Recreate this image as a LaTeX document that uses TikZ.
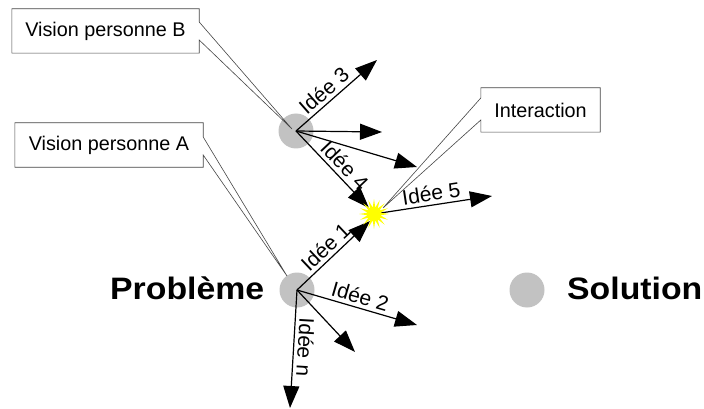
\documentclass[tikz,border=0pt]{standalone}
\usepackage{fontspec}
\setmainfont{Liberation Sans}
\usetikzlibrary{arrows.meta,shapes.geometric}
\definecolor{dotgray}{RGB}{194,194,194}
\definecolor{burstyellow}{RGB}{255,255,0}
\definecolor{calloutline}{RGB}{70,70,70}
\pgfdeclarelayer{bg}
\pgfdeclarelayer{fg}
\pgfsetlayers{bg,main,fg}
\tikzset{
  dot/.style={circle,fill=dotgray,draw=none,minimum size=35pt,inner sep=0pt},
  boxtext/.style={draw=none,inner sep=0pt,minimum height=44pt,font=\fontsize{19.8}{22}\selectfont},
  calloutshape/.style={draw=calloutline,line width=0.6pt,fill=white,line join=miter},
  idea/.style={line width=1.2pt,-{Triangle[length=22pt,width=16pt]}},
  ilabel/.style={font=\fontsize{21}{23}\selectfont,inner sep=3.5pt,sloped,above},
  bigtext/.style={font=\fontsize{31}{34}\selectfont\bfseries,inner sep=0pt,anchor=base west},
  burststyle/.style={star,star points=16,star point ratio=2.3,fill=burstyellow,draw=none,minimum size=30pt,inner sep=0pt}
}
\begin{document}
\begin{tikzpicture}[x=1pt,y=-1pt]
\useasboundingbox (0,0) rectangle (704,409);
% circles
\begin{pgfonlayer}{bg}
\node[dot] (pA) at (297,290) {};
\node[dot] (pB) at (296,131) {};
\node[dot] (sol) at (527,290) {};
\end{pgfonlayer}
% texts
\node[bigtext] (prob) at (110,299) {\scalebox{1.09}[1]{Problème}};
\node[bigtext] (soltext) at (567,299) {\scalebox{1.09}[1]{Solution}};
% callout boxes
\node[boxtext,minimum width=187pt] (vb) at (105.5,31) {Vision personne B};
\node[boxtext,minimum width=188pt] (va) at (109,145) {Vision personne A};
\node[boxtext,minimum width=119pt] (inter) at (540.5,110) {Interaction};
\coordinate (tipB) at (292,129);
\coordinate (tipA) at (287,276);
\coordinate (tipI) at (383,208);
\begin{pgfonlayer}{bg}
\path[calloutshape] (vb.north west) -- (vb.north east) -- ([yshift=9pt]vb.east) -- (tipB)
  -- ([yshift=-9pt]vb.east) -- (vb.south east) -- (vb.south west) -- cycle;
\path[calloutshape] (va.north west) -- (va.north east) -- ([yshift=8pt]va.east) -- (tipA)
  -- ([yshift=-10pt]va.east) -- (va.south east) -- (va.south west) -- cycle;
\path[calloutshape] (inter.north west) -- (inter.north east) -- (inter.south east) -- (inter.south west)
  -- ([yshift=-10pt]inter.west) -- (tipI) -- ([yshift=12pt]inter.west) -- cycle;
\end{pgfonlayer}
% arrow end points
\coordinate (e3) at (377,60);
\coordinate (eBm) at (382,132);
\coordinate (eBl) at (417,167);
\coordinate (e4) at (369,208);
\coordinate (e1) at (370,221);
\coordinate (e2) at (417,325);
\coordinate (eAm) at (355,352);
\coordinate (en) at (290,408);
\coordinate (e5) at (492,196);
% arrows from B
\draw[idea] (pB.center) -- node[ilabel,pos=0.44] (l3) {Idée 3} (e3);
\draw[idea] (pB.center) -- (eBm);
\draw[idea] (pB.center) -- (eBl);
\draw[idea] (pB.center) -- node[ilabel,pos=0.55] (l4) {Idée 4} (e4);
% arrows from A
\draw[idea] (pA.center) -- node[ilabel,pos=0.5] (l1) {Idée 1} (e1);
\draw[idea] (pA.center) -- node[ilabel,pos=0.5] (l2) {Idée 2} (e2);
\draw[idea] (pA.center) -- (eAm);
\draw[idea] (pA.center) -- node[ilabel,allow upside down,pos=0.48] (ln) {Idée n} (en);
% burst
\coordinate (bc) at (374,214);
\draw[idea] (bc) -- node[ilabel,pos=0.5] (l5) {Idée 5} (e5);
\begin{pgfonlayer}{fg}
\node[burststyle] (burst) at (bc) {};
\end{pgfonlayer}
\end{tikzpicture}
\end{document}
